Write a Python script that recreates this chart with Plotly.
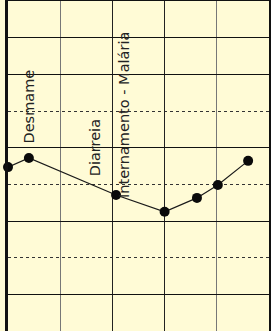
import plotly.graph_objects as go

# data (x: time units, y: measurement units)
x_vals = [0, 2, 10.35, 15, 18.1, 20.1, 23]
y_vals = [4.47, 4.72, 3.71, 3.25, 3.63, 3.98, 4.64]

event_labels = ["Desmame", "Diarreia", "Internamento - Malária"]
event_x = [2.05, 8.3, 11.1]
event_y = [5.07, 4.17, 3.57]

x_major = [10, 15]
x_minor = [5, 20]
y_major = [1, 3, 5, 7, 8]
y_minor = [2, 4, 6]

bg = "#FFFBD6"
font_family = "DejaVu Sans"

fig = go.Figure()
fig.add_trace(go.Scatter(
    x=x_vals, y=y_vals, mode="lines+markers",
    line=dict(color="#1a1a1a", width=1.2),
    marker=dict(color="#0a0a0a", size=10),
    cliponaxis=False, showlegend=False, hoverinfo="skip",
))

for t, xv, yv in zip(event_labels, event_x, event_y):
    fig.add_annotation(x=xv, y=yv, text=t, textangle=-90, showarrow=False,
                       xanchor="center", yanchor="bottom",
                       font=dict(family=font_family, size=14.5, color="#222"))

fig.update_layout(
    width=271, height=331,
    margin=dict(l=8, r=2, t=1, b=0),
    paper_bgcolor=bg, plot_bgcolor=bg,
    xaxis=dict(range=[0, 25], tickmode="array", tickvals=x_major,
               showticklabels=False, ticks="", showgrid=True,
               gridcolor="#222", gridwidth=1, zeroline=False,
               side="top", showline=True, linecolor="#111", linewidth=1.5,
               minor=dict(tickmode="array", tickvals=x_minor, showgrid=True,
                          gridcolor="#777", gridwidth=1.3, ticks="")),
    yaxis=dict(range=[0, 9], tickmode="array", tickvals=y_major,
               showticklabels=False, ticks="", showgrid=True,
               gridcolor="#111", gridwidth=1, zeroline=False,
               showline=True, linecolor="#111", linewidth=2.5, mirror=True,
               minor=dict(tickmode="array", tickvals=y_minor, showgrid=True,
                          gridcolor="#333", gridwidth=1, griddash="dot", ticks="")),
)

fig.write_html("out.html", config={"displayModeBar": False},
               post_script="document.body.style.margin='0';document.body.style.background='%s';" % bg)
